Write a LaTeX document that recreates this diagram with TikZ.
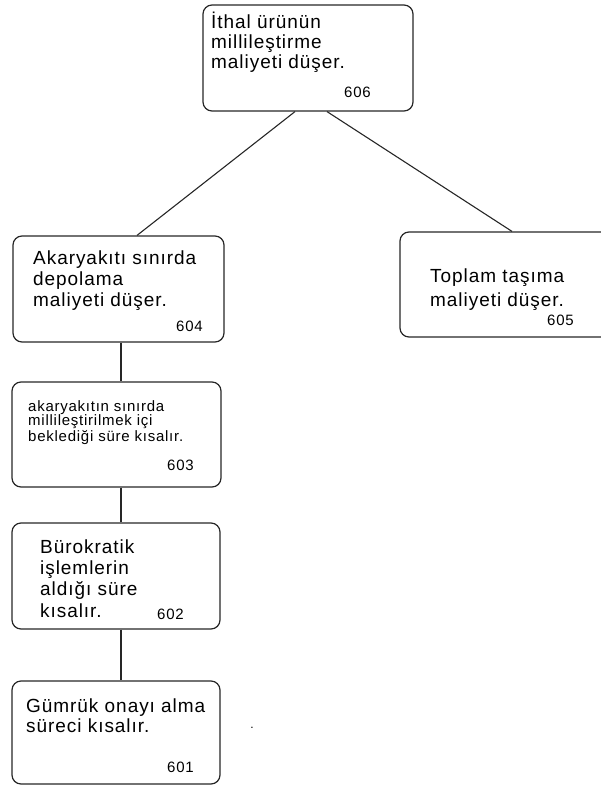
\documentclass[tikz,border=0pt]{standalone}
\usepackage{fontspec}
\setmainfont{Liberation Sans}
\newfontfamily\wideface[LetterSpace=5]{Liberation Sans}
\begin{document}
\begin{tikzpicture}[x=1pt,y=-1pt,
  box/.style={draw=black!85, line width=1.2pt, rounded corners=9pt, inner sep=0pt},
  conn/.style={draw=black!85, line width=1.1pt},
  txt/.style={inner sep=0pt, anchor=base west, align=left, font=\wideface\fontsize{19}{20}\selectfont},
  small/.style={inner sep=0pt, anchor=base west, align=left, font=\wideface\fontsize{15}{14}\selectfont},
  num/.style={inner sep=0pt, anchor=base west, font=\wideface\fontsize{15}{16}\selectfont}]
  \useasboundingbox (0,0) rectangle (600,787);

  % boxes
  \node[box, minimum width=210pt, minimum height=106pt] (n606) at (308,58) {};
  \node[box, minimum width=211pt, minimum height=106pt] (n604) at (118.5,289) {};
  \node[box, minimum width=215pt, minimum height=105pt] (n605) at (507.5,284.5) {};
  \node[box, minimum width=209pt, minimum height=105pt] (n603) at (116.5,434.5) {};
  \node[box, minimum width=208pt, minimum height=106pt] (n602) at (116,576) {};
  \node[box, minimum width=208pt, minimum height=103pt] (n601) at (116,732.5) {};

  % texts (anchored at the baseline of their last line)
  \node[txt] (t606) at (211,68.5) {İthal ürünün\\millileştirme\\maliyeti düşer.};
  \node[num] (c606) at (344,97) {606};
  \node[txt, font=\wideface\fontsize{19}{21}\selectfont] (t604) at (33,306) {Akaryakıtı sınırda\\depolama\\maliyeti düşer.};
  \node[num] (c604) at (176,331) {604};
  \node[txt, font=\wideface\fontsize{19}{24}\selectfont] (t605) at (430,306) {Toplam taşıma\\maliyeti düşer.};
  \node[num] (c605) at (547,325) {605};
  \node[small] (t603) at (28,441) {akaryakıtın sınırda\\millileştirilmek içi\\beklediği süre kısalır.};
  \node[num] (c603) at (167,470) {603};
  \node[txt, font=\wideface\fontsize{19}{21.3}\selectfont] (t602) at (40,617) {Bürokratik\\işlemlerin\\aldığı süre\\kısalır.};
  \node[num] (c602) at (157,619) {602};
  \node[txt] (t601) at (26,732) {Gümrük onayı alma\\süreci kısalır.};
  \node[num] (c601) at (167,772) {601};
  \node[inner sep=0pt, font=\fontsize{12}{12}\selectfont] (dot) at (252,728) {.};

  % connectors
  \draw[conn] ([xshift=-13pt]n606.south) -- ([xshift=18.5pt]n604.north);
  \draw[conn] ([xshift=19pt]n606.south) -- ([xshift=4.5pt]n605.north);
  \draw[conn] ([xshift=2.5pt]n604.south) -- ([xshift=2.5pt]n604.south |- n603.north);
  \draw[conn] ([xshift=4.5pt]n603.south) -- ([xshift=4.5pt]n603.south |- n602.north);
  \draw[conn] ([xshift=5pt]n602.south) -- ([xshift=5pt]n602.south |- n601.north);
\end{tikzpicture}
\end{document}
